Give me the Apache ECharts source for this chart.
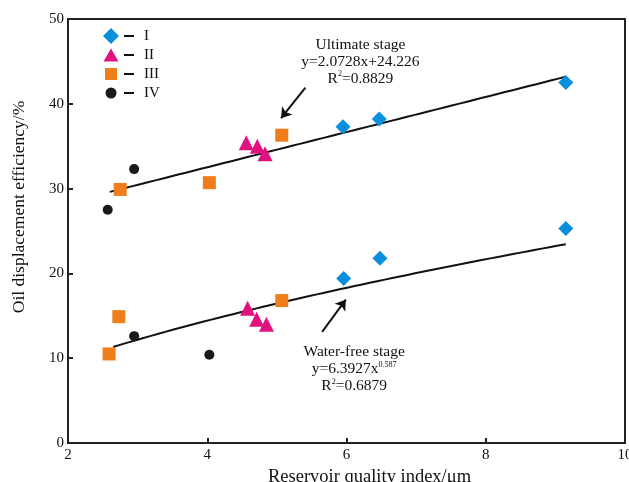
<!DOCTYPE html>
<html>
<head>
<meta charset="utf-8">
<script src="https://cdn.jsdelivr.net/npm/echarts@6/dist/echarts.min.js"></script>
<style>
  html, body { margin: 0; padding: 0; background: #fff; }
  #chart { width: 629px; height: 482px; }
</style>
</head>
<body>
<div id="chart"></div>
<script>
// Reservoir quality index (x, μm) vs oil displacement efficiency (y, %)
const typeNames = ['I', 'II', 'III', 'IV'];

const typeI   = [[9.15, 42.5], [5.95, 37.3], [6.47, 38.2], [9.15, 25.3], [5.96, 19.4], [6.48, 21.8]];
const typeII  = [[4.56, 35.4], [4.72, 35.0], [4.83, 34.1], [4.58, 15.9], [4.71, 14.6], [4.85, 14.0]];
const typeIII = [[2.75, 29.9], [4.03, 30.7], [5.07, 36.3], [2.73, 14.9], [2.59, 10.5], [5.07, 16.8]];
const typeIV  = [[2.57, 27.5], [2.95, 32.3], [2.95, 12.6], [4.03, 10.4]];

// Fitted relations printed beside the curves
const ultimateSlope = 2.0728, ultimateIntercept = 24.226, ultimateR2 = '0.8829';
const waterFreeCoef = 6.3927, waterFreeExp = 0.587, waterFreeR2 = '0.6879';
const ultimateRange = [2.6, 9.15];
const waterFreeRange = [2.65, 9.15];

const xTicks = { min: 2, max: 10, interval: 2 };
const yTicks = { min: 0, max: 50, interval: 10 };

function fitCurve(range, fn) {
  const pts = [];
  const n = 60;
  for (let i = 0; i <= n; i++) {
    const x = range[0] + (range[1] - range[0]) * i / n;
    pts.push([x, fn(x)]);
  }
  return pts;
}
const ultimateLine = fitCurve(ultimateRange, x => ultimateSlope * x + ultimateIntercept);
const waterFreeLine = fitCurve(waterFreeRange, x => waterFreeCoef * Math.pow(x, waterFreeExp));

const serif = '"Liberation Serif", "DejaVu Serif", serif';
const colors = ['#0a8fdc', '#e0127f', '#ef7d19', '#1a1a1a'];
const symbols = ['diamond', 'triangle', 'rect', 'circle'];
const sizes = [15, 15, 13, 10];
// Legend glyphs drawn inside a 16x16 frame so each keeps its own size
const legendIcons = [
  'path://M8,0.5 L15.5,8 L8,15.5 L0.5,8 Z',
  'path://M0,0 M16,16 M8,1.5 L15.5,14.5 L0.5,14.5 Z',
  'path://M0,0 M16,16 M2,2 L14,2 L14,14 L2,14 Z',
  'path://M0,0 M16,16 M2.5,8 A5.5,5.5 0 1,0 13.5,8 A5.5,5.5 0 1,0 2.5,8 Z'
];
const groups = [typeI, typeII, typeIII, typeIV];

const chart = echarts.init(document.getElementById('chart'));

const scatterSeries = groups.map((d, i) => ({
  name: typeNames[i],
  type: 'scatter',
  data: d,
  symbol: symbols[i],
  symbolSize: sizes[i],
  itemStyle: { color: colors[i], opacity: 1 },
  z: 3
}));

const arrowStyle = { color: '#111', width: 2, type: 'solid' };

chart.setOption({
  animation: false,
  textStyle: { fontFamily: serif },
  grid: {
    left: 68, right: 4, top: 19, bottom: 39,
    outerBoundsMode: 'none', containLabel: false,
    show: true, borderColor: '#222', borderWidth: 2, backgroundColor: 'transparent'
  },
  legend: {
    orient: 'vertical',
    left: 98, top: 23,
    itemWidth: 16, itemHeight: 16, itemGap: 3,
    data: typeNames.map((n, i) => ({ name: n, icon: legendIcons[i] })),
    formatter: n => '{d|}{s|}' + n,
    textStyle: {
      fontFamily: serif, fontSize: 15, color: '#111',
      rich: {
        d: { width: 10, height: 2, backgroundColor: '#111' },
        s: { width: 10, height: 2 }
      }
    }
  },
  xAxis: {
    type: 'value', min: xTicks.min, max: xTicks.max, interval: xTicks.interval,
    name: 'Reservoir quality index/μm', nameLocation: 'middle', nameGap: 25,
    nameTextStyle: { fontFamily: serif, fontSize: 18.5, color: '#111', padding: [0, 0, 0, 46] },
    axisLine: { show: true, lineStyle: { color: '#222', width: 2 } },
    axisTick: { show: true, inside: true, length: 5, lineStyle: { color: '#222', width: 2 } },
    axisLabel: { fontFamily: serif, fontSize: 15, color: '#111', margin: 5 },
    splitLine: { show: false }
  },
  yAxis: {
    type: 'value', min: yTicks.min, max: yTicks.max, interval: yTicks.interval,
    name: 'Oil displacement efficiency/%', nameLocation: 'middle', nameGap: 40,
    nameTextStyle: { fontFamily: serif, fontSize: 17.5, color: '#111', padding: [0, 0, 0, 48] },
    axisLine: { show: true, lineStyle: { color: '#222', width: 2 } },
    axisTick: { show: true, inside: true, length: 5, lineStyle: { color: '#222', width: 2 } },
    axisLabel: { fontFamily: serif, fontSize: 15, color: '#111', margin: 4 },
    splitLine: { show: false }
  },
  series: [
    ...scatterSeries,
    {
      name: 'Ultimate stage',
      type: 'line', data: ultimateLine, showSymbol: false, symbol: 'none',
      lineStyle: { color: '#111', width: 2 }, z: 2,
      markLine: {
        silent: true, symbol: ['none', 'arrow'], symbolSize: 10,
        label: { show: false }, lineStyle: arrowStyle,
        data: [[{ coord: [5.41, 41.9] }, { coord: [5.06, 38.3] }]]
      }
    },
    {
      name: 'Water-free stage',
      type: 'line', data: waterFreeLine, showSymbol: false, symbol: 'none',
      lineStyle: { color: '#111', width: 2 }, z: 2,
      markLine: {
        silent: true, symbol: ['none', 'arrow'], symbolSize: 10,
        label: { show: false }, lineStyle: arrowStyle,
        data: [[{ coord: [5.65, 13.1] }, { coord: [5.99, 16.9] }]]
      }
    }
  ]
});

// Equation annotations, anchored at data coordinates
function annotate(at, lines) {
  const p = chart.convertToPixel({ gridIndex: 0 }, at);
  return {
    type: 'text', x: p[0], y: p[1],
    style: {
      text: lines.join('\n'),
      align: 'center', verticalAlign: 'top',
      fontFamily: serif, fontSize: 15.5, lineHeight: 17, fill: '#111',
      rich: {
        sup: { fontSize: 8, verticalAlign: 'top', lineHeight: 17, fontFamily: serif, fill: '#111' }
      }
    }
  };
}
chart.setOption({
  graphic: [
    annotate([6.2, 48.0], ['Ultimate stage', 'y=' + ultimateSlope + 'x+' + ultimateIntercept, 'R{sup|2}=' + ultimateR2]),
    annotate([6.11, 11.7], ['Water-free stage', 'y=' + waterFreeCoef + 'x{sup|' + waterFreeExp + '}', 'R{sup|2}=' + waterFreeR2])
  ]
});
</script>
</body>
</html>
